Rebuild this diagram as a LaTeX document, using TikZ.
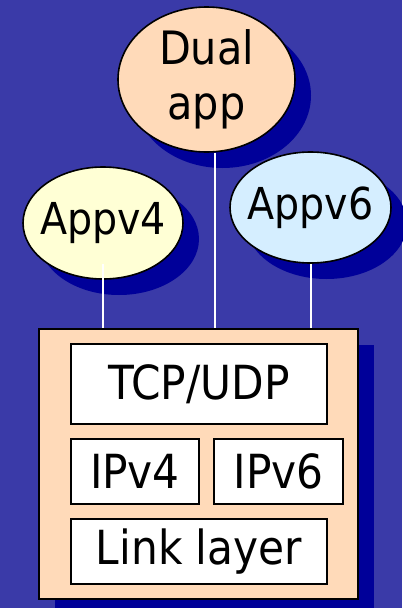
\documentclass[tikz,border=0pt]{standalone}
\usepackage{fontspec}
\setmainfont{DejaVu Sans Condensed}
\usetikzlibrary{shapes.geometric,shadows,calc}
\definecolor{bgblue}{RGB}{58,58,168}
\definecolor{shblue}{RGB}{0,0,153}
\definecolor{peach}{RGB}{255,218,185}
\definecolor{lyellow}{RGB}{255,255,213}
\definecolor{lblue}{RGB}{213,238,255}
\begin{document}
\begin{tikzpicture}[x=1pt,y=-1pt,
  appell/.style={ellipse, draw=black, line width=1.6pt, inner sep=0pt,
    drop shadow={shadow xshift=16pt, shadow yshift=-16pt, fill=shblue, opacity=1}},
  layer/.style={rectangle, draw=black, line width=1.8pt, fill=white, inner sep=0pt,
    font=\fontsize{47}{56}\selectfont},
  wire/.style={white, line width=2pt}]
\fill[bgblue] (0,0) rectangle (402,608);
\useasboundingbox (0,0) rectangle (402,608);

% stack box
\node[rectangle, draw=black, line width=2.5pt, fill=peach, inner sep=0pt,
  minimum width=319pt, minimum height=270pt,
  drop shadow={shadow xshift=16pt, shadow yshift=-16pt, fill=shblue, opacity=1}]
  (stack) at (198.5,464) {};

\node[layer, minimum width=256pt, minimum height=80pt] (tcp) at (199,384) {TCP/UDP};
\node[layer, minimum width=128pt, minimum height=65pt] (ip4) at (135,471.5) {IPv4};
\node[layer, minimum width=129pt, minimum height=65pt] (ip6) at (278.5,471.5) {IPv6};
\node[layer, minimum width=256pt, minimum height=65pt] (link) at (199,551.5) {Link layer};

% applications
\node[appell, fill=peach, minimum width=177pt, minimum height=145pt, align=center,
  font=\fontsize{46}{55}\selectfont] (dual) at (206.5,79.5) {Dual\\app};
\node[appell, fill=lyellow, minimum width=160pt, minimum height=112pt,
  font=\fontsize{44}{52}\selectfont] (a4) at (103,223) {\makebox[0pt]{Appv4}};
\node[appell, fill=lblue, minimum width=161pt, minimum height=111pt,
  font=\fontsize{44}{52}\selectfont] (a6) at (310.5,207.5) {\makebox[0pt]{Appv6}};

% connectors
\coordinate (a4top) at ($(a4.south)+(0,-16)$);
\coordinate (dualbot) at ($(dual.south)+(8.5,0)$);
\draw[wire] (a4top) -- (a4top |- stack.north);
\draw[wire] (dualbot) -- (dualbot |- stack.north);
\draw[wire] (a6.south) -- (a6.south |- stack.north);
\end{tikzpicture}
\end{document}
